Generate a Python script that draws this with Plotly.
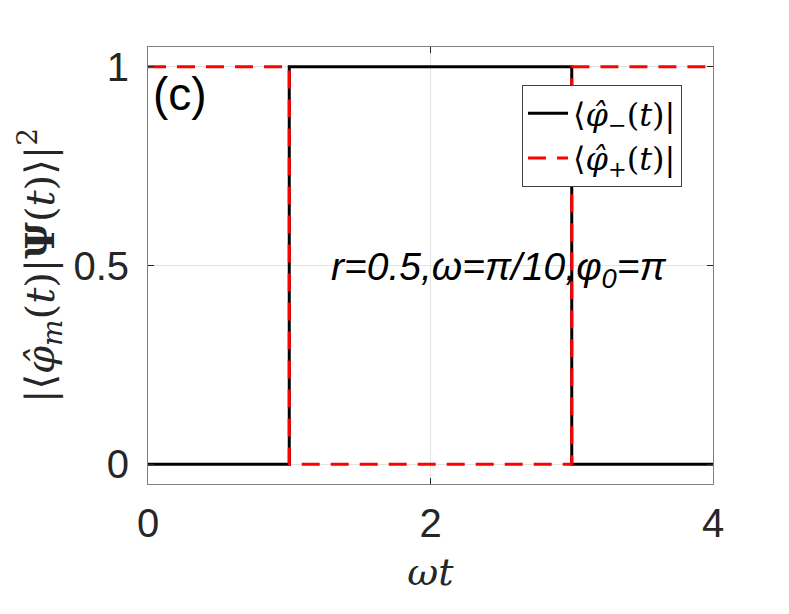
import plotly.graph_objects as go

# Data: step-like populations vs omega*t
x_minus = [0, 1, 1, 3, 3, 4]
y_minus = [0, 0, 1, 1, 0, 0]
x_plus = [0, 1, 1, 3, 3, 4]
y_plus = [1, 1, 0, 0, 1, 1]

x_ticks = [0, 2, 4]
y_ticks = [0, 0.5, 1]
y_tick_labels = ["0", "0.5", "1"]

fig = go.Figure()
fig.add_trace(go.Scatter(
    x=x_minus, y=y_minus, mode="lines",
    line=dict(color="black", width=3),
    name="⟨<i>φ̂</i><sub>−</sub>(<i>t</i>)|",
))
fig.add_trace(go.Scatter(
    x=x_plus, y=y_plus, mode="lines",
    line=dict(color="red", width=3, dash="18px,11px"),
    name="⟨<i>φ̂</i><sub>+</sub>(<i>t</i>)|",
))

axis_common = dict(
    showline=True, linecolor="#808080", linewidth=1, mirror="ticks",
    ticks="inside", ticklen=6, tickcolor="#262626",
    showgrid=True, gridcolor="#e3e3e3", gridwidth=1,
    zeroline=False,
    tickfont=dict(family="Liberation Sans, Arial", size=40, color="#262626"),
)

fig.update_layout(
    width=789, height=614,
    margin=dict(l=140, r=84, t=39, b=138),
    paper_bgcolor="white", plot_bgcolor="white",
    xaxis=dict(range=[0, 4], tickvals=x_ticks, ticktext=[str(v) for v in x_ticks],
               ticklabelstandoff=4,
               title=dict(text="<i>ωt</i>", font=dict(family="DejaVu Serif", size=38, color="#262626"),
                          standoff=14),
               **axis_common),
    yaxis=dict(range=[-0.05, 1.05], tickvals=y_ticks, ticktext=y_tick_labels,
               ticklabelstandoff=10,
               title=dict(text="|⟨<i>φ̂<sub>m</sub></i>(<i>t</i>)|<b>Ψ</b>(<i>t</i>)⟩|<sup>2</sup>",
                          font=dict(family="DejaVu Serif", size=40, color="#262626"),
                          standoff=6),
               **axis_common),
    showlegend=True,
    legend=dict(
        x=0.662, y=0.913, xanchor="left", yanchor="top",
        bgcolor="white", bordercolor="#404040", borderwidth=1,
        font=dict(family="DejaVu Serif", size=32, color="black"),
        itemwidth=40,
        tracegroupgap=0,
    ),
    annotations=[
        dict(x=0.0, y=0.957, xref="paper", yref="paper", xanchor="left", yanchor="top",
             xshift=3, text="(c)", showarrow=False,
             font=dict(family="Liberation Sans, Arial", size=46, color="black")),
        dict(x=2.485, y=0.49, xref="x", yref="y", xanchor="center", yanchor="middle",
             text="<i>r=0.5,ω=π/10,φ<sub>0</sub>=π</i>", showarrow=False,
             font=dict(family="Liberation Sans, Arial", size=39, color="black")),
    ],
)

fig.write_html("out.html")
